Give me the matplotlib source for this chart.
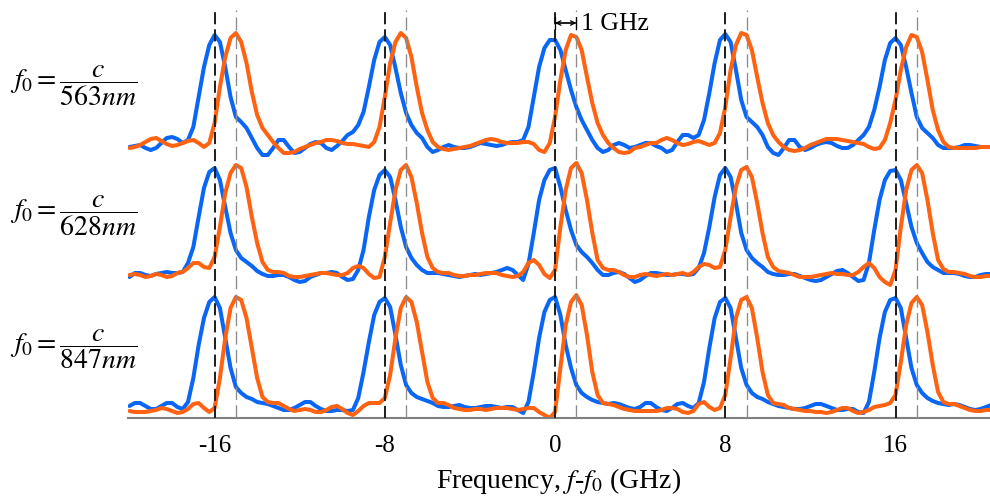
import numpy as np
import matplotlib
matplotlib.use("Agg")
import matplotlib.pyplot as plt

plt.rcParams["font.family"] = ["Liberation Serif", "DejaVu Serif"]
plt.rcParams["mathtext.fontset"] = "stix"

freq_ghz = np.arange(-20.0, 20.5 + 0.125, 0.25)

# rows top -> bottom; heights in arbitrary units above each row's baseline
wavelengths = ["563", "628", "847"]

blue_563 = [
    8, 9, 10, 7, 5, 7, 12, 17, 18, 16, 12, 15, 28, 58, 88, 110,
    120, 113, 88, 58, 38, 33, 27, 17, 7, 0, 0, 7, 15, 15, 8, 2,
    3, 7, 11, 13, 12, 7, 5, 9, 14, 20, 23, 30, 43, 68, 95, 113,
    118, 110, 87, 62, 42, 30, 22, 17, 8, 3, 5, 8, 10, 8, 7, 7,
    8, 10, 12, 11, 10, 9, 10, 12, 13, 13, 15, 28, 58, 88, 107, 115,
    115, 105, 85, 65, 48, 35, 25, 15, 7, 3, 5, 10, 12, 10, 7, 8,
    10, 12, 12, 9, 7, 3, 5, 13, 20, 20, 17, 20, 35, 62, 92, 115,
    121, 113, 85, 55, 38, 33, 28, 20, 8, 2, 0, 7, 15, 15, 8, 5,
    7, 10, 12, 13, 12, 9, 7, 7, 10, 15, 20, 28, 45, 68, 95, 112,
    117, 110, 88, 62, 38, 27, 22, 17, 10, 7, 7, 7, 8, 10, 10, 9,
    8, 8, 8,
]
orange_563 = [
    7, 8, 10, 13, 16, 17, 14, 11, 9, 10, 12, 14, 15, 12, 8, 12,
    32, 68, 98, 117, 122, 113, 92, 63, 40, 27, 20, 13, 7, 2, 2, 3,
    6, 8, 10, 12, 13, 15, 15, 14, 12, 11, 11, 10, 9, 8, 13, 28,
    58, 92, 113, 122, 117, 98, 68, 42, 25, 13, 8, 6, 5, 6, 7, 8,
    9, 11, 13, 15, 16, 15, 13, 12, 12, 12, 13, 13, 11, 5, 3, 12,
    38, 75, 105, 120, 118, 105, 78, 52, 32, 20, 12, 7, 3, 2, 3, 7,
    8, 10, 12, 12, 15, 17, 15, 12, 10, 11, 13, 14, 12, 10, 12, 22,
    48, 85, 110, 122, 120, 105, 78, 52, 32, 20, 13, 8, 5, 4, 5, 7,
    10, 12, 14, 16, 16, 16, 15, 14, 13, 12, 11, 8, 6, 7, 15, 32,
    55, 85, 108, 120, 118, 103, 75, 45, 25, 13, 8, 7, 7, 7, 7, 7,
    8, 8, 8,
]
blue_628 = [
    5, 9, 9, 7, 6, 8, 9, 10, 9, 9, 10, 19, 35, 65, 94, 110,
    114, 102, 75, 49, 32, 24, 20, 16, 11, 8, 6, 6, 7, 7, 5, 2,
    0, 1, 5, 7, 9, 9, 10, 9, 5, 2, 3, 12, 32, 65, 92, 107,
    112, 105, 82, 55, 35, 24, 17, 12, 9, 9, 9, 8, 7, 6, 5, 6,
    7, 8, 7, 8, 9, 10, 12, 14, 12, 7, 2, 18, 49, 82, 102, 112,
    114, 95, 72, 52, 37, 30, 25, 19, 12, 7, 7, 9, 10, 8, 4, 0,
    2, 6, 9, 9, 8, 7, 7, 8, 8, 7, 8, 14, 29, 55, 85, 107,
    114, 105, 79, 49, 32, 24, 19, 15, 10, 8, 7, 7, 8, 8, 6, 4,
    2, 1, 2, 5, 8, 11, 12, 9, 5, 1, 2, 19, 52, 82, 102, 111,
    112, 102, 79, 55, 39, 29, 20, 15, 12, 9, 9, 9, 8, 6, 5, 5,
    7, 8, 8,
]
orange_628 = [
    7, 8, 7, 5, 6, 8, 7, 5, 6, 9, 10, 14, 19, 19, 15, 14,
    25, 55, 89, 109, 117, 114, 95, 65, 39, 20, 12, 10, 10, 9, 6, 5,
    5, 6, 7, 8, 9, 9, 8, 7, 7, 9, 14, 16, 14, 8, 4, 5,
    25, 59, 92, 112, 117, 105, 79, 49, 25, 14, 10, 9, 9, 7, 6, 6,
    7, 7, 8, 9, 9, 9, 7, 6, 5, 6, 10, 19, 22, 17, 8, 4,
    12, 55, 92, 114, 119, 109, 82, 49, 22, 14, 12, 12, 10, 7, 5, 5,
    7, 8, 7, 6, 7, 8, 7, 8, 9, 7, 10, 15, 18, 17, 14, 15,
    32, 65, 95, 112, 115, 105, 79, 49, 25, 15, 11, 10, 9, 7, 5, 5,
    5, 6, 7, 8, 9, 8, 8, 7, 7, 10, 15, 19, 14, 5, 0, -3,
    12, 55, 92, 112, 117, 109, 82, 49, 22, 13, 10, 10, 9, 8, 6, 5,
    5, 6, 6,
]
blue_847 = [
    11, 14, 14, 11, 8, 8, 11, 14, 14, 10, 8, 15, 39, 72, 99, 115,
    120, 109, 79, 49, 30, 24, 20, 18, 15, 14, 13, 11, 9, 7, 7, 9,
    12, 15, 15, 11, 8, 6, 6, 7, 7, 6, 7, 19, 45, 75, 102, 115,
    119, 110, 82, 52, 32, 24, 20, 18, 16, 14, 11, 10, 10, 11, 12, 10,
    9, 9, 10, 11, 11, 10, 9, 10, 10, 7, 4, 15, 45, 79, 105, 117,
    120, 102, 72, 49, 32, 24, 20, 17, 15, 14, 13, 14, 13, 11, 9, 8,
    10, 14, 14, 10, 7, 6, 9, 13, 14, 11, 9, 14, 35, 69, 99, 115,
    119, 109, 79, 49, 32, 24, 20, 18, 15, 13, 11, 10, 9, 8, 8, 9,
    11, 13, 13, 11, 9, 7, 7, 8, 8, 5, 4, 15, 45, 79, 105, 117,
    119, 109, 79, 49, 32, 24, 19, 16, 14, 13, 12, 13, 12, 10, 8, 7,
    8, 10, 12,
]
orange_847 = [
    6, 5, 5, 5, 6, 7, 9, 8, 6, 4, 5, 8, 13, 14, 9, 5,
    9, 39, 79, 109, 120, 117, 99, 69, 39, 20, 15, 14, 14, 11, 8, 6,
    7, 8, 7, 5, 5, 7, 10, 11, 8, 4, 2, 6, 11, 14, 14, 14,
    19, 42, 79, 109, 120, 115, 95, 65, 35, 19, 14, 14, 12, 9, 8, 7,
    7, 8, 8, 7, 8, 9, 9, 9, 8, 7, 8, 9, 9, 5, 2, -1,
    5, 49, 92, 115, 122, 112, 82, 45, 22, 14, 13, 12, 10, 8, 7, 6,
    6, 6, 6, 6, 7, 9, 9, 8, 5, 4, 6, 13, 15, 10, 7, 9,
    22, 59, 99, 117, 120, 109, 79, 45, 22, 14, 13, 12, 9, 8, 7, 6,
    6, 5, 5, 4, 5, 7, 9, 9, 6, 4, 5, 7, 10, 11, 12, 14,
    22, 55, 92, 114, 120, 112, 85, 52, 25, 15, 13, 13, 11, 9, 7, 6,
    6, 7, 7,
]

blue_rows = [blue_563, blue_628, blue_847]
orange_rows = [orange_563, orange_628, orange_847]
row_offsets = [263, 136, 1]

comb_lines = [-16, -8, 0, 8, 16]
shifted_lines = [-15, -7, 1, 9, 17]
tick_labels = ["-16", "-8", "0", "8", "16"]

BLUE = "#0a66f5"
ORANGE = "#ff6210"

fig = plt.figure(figsize=(9.9, 4.98), dpi=100)
ax = fig.add_axes([128 / 990, 80 / 498, 862 / 990, 408 / 498])

for blue, orange, off in zip(blue_rows, orange_rows, row_offsets):
    ax.plot(freq_ghz, np.array(blue) + off, color=BLUE, lw=2.9, zorder=2,
            solid_capstyle="round", solid_joinstyle="round")
    ax.plot(freq_ghz, np.array(orange) + off, color=ORANGE, lw=2.9, zorder=2.1,
            solid_capstyle="round", solid_joinstyle="round")

for x in comb_lines:
    ax.axvline(x, color="#222222", lw=1.45, dashes=(6, 2.5), zorder=3)
for x in shifted_lines:
    ax.axvline(x, color="#8c8c8c", lw=0.95, dashes=(10, 4), zorder=3)

# 1 GHz spacing marker
ax.annotate("", xy=(0, 395), xytext=(1, 395),
            arrowprops=dict(arrowstyle="<->", color="black", lw=0.9,
                            shrinkA=0, shrinkB=0, mutation_scale=8))
ax.annotate("", xy=(0, 395), xytext=(1, 395),
            arrowprops=dict(arrowstyle="|-|,widthA=0.45,widthB=0.45", color="black",
                            lw=0.9, shrinkA=0, shrinkB=0))
ax.text(1.2, 394, "1 GHz", fontsize=18.5, va="center", ha="left")

ax.set_xlim(-20.07, 20.44)
ax.set_ylim(0, 408)
ax.set_xticks(comb_lines)
ax.set_xticklabels(tick_labels)
ax.tick_params(axis="x", length=0, pad=12, labelsize=18)
ax.set_yticks([])
for side in ["left", "top", "right"]:
    ax.spines[side].set_visible(False)
ax.spines["bottom"].set_color("#7f7f7f")
ax.spines["bottom"].set_linewidth(1.5)
ax.set_xlabel("Frequency, $f$-$f_0$ (GHz)", fontsize=20, labelpad=7)

label_y = [86, 216, 349]
for wl, yp in zip(wavelengths, label_y):
    fig.text(10 / 990, 1 - yp / 498, r"$f_0=\dfrac{c}{%s nm}$" % wl,
             fontsize=20, ha="left", va="center")

fig.savefig("out.png", dpi=100)
